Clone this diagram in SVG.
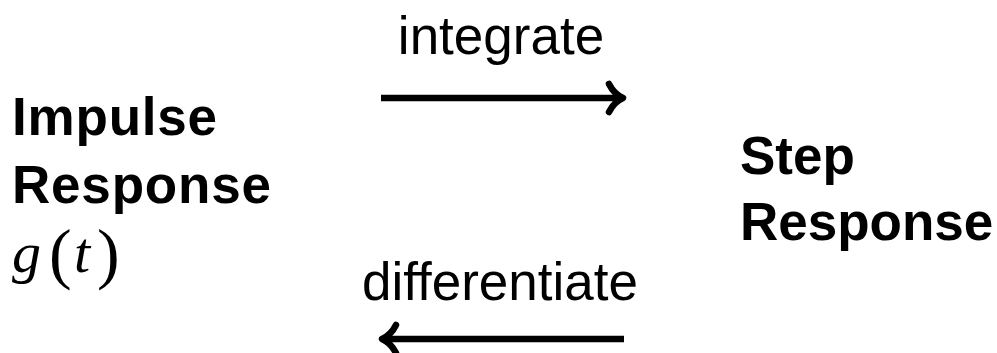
<svg xmlns="http://www.w3.org/2000/svg" width="997" height="353" viewBox="0 0 997 353">
  <style>
    .title { font-family: "Liberation Sans", Arial, sans-serif; font-weight: bold; font-size: 53px; fill: #000; }
    .wide { letter-spacing: 0.8px; }
    .label { font-family: "Liberation Sans", Arial, sans-serif; font-size: 53px; fill: #000; }
    .math { font-family: "Liberation Serif", "Times New Roman", serif; font-style: italic; font-size: 58px; fill: #000; }
    .paren { font-family: "Liberation Serif", "Times New Roman", serif; font-size: 68px; fill: #000; }
    .edge { stroke: #000; stroke-width: 6.5; fill: none; stroke-linecap: butt; }
    .head { stroke: #000; stroke-width: 6.5; fill: none; stroke-linecap: round; stroke-linejoin: round; }
  </style>
  <rect width="997" height="353" fill="#fff"/>

  <g id="impulse-response">
    <text class="title wide" x="12" y="135">Impulse</text>
    <text class="title wide" x="12" y="203">Response</text>
    <text class="math" x="12" y="272">g</text>
    <text class="paren" x="49" y="276">(</text>
    <text class="math" x="74" y="272">t</text>
    <text class="paren" x="97" y="276">)</text>
  </g>

  <g id="step-response">
    <text class="title" x="740" y="174">Step</text>
    <text class="title" x="740" y="240">Response</text>
  </g>

  <g id="connectors">
    <g id="integrate">
      <text class="label" x="501" y="54" text-anchor="middle">integrate</text>
      <line class="edge" x1="381" y1="98" x2="620" y2="98"/>
      <path class="head" d="M609,84 Q614,94 623,98 Q614,102 609,112"/>
    </g>
    <g id="differentiate">
      <text class="label" x="500" y="300" text-anchor="middle">differentiate</text>
      <line class="edge" x1="385" y1="339" x2="624" y2="339"/>
      <path class="head" d="M396,325 Q391,335 382,339 Q391,343 396,353"/>
    </g>
  </g>
</svg>
